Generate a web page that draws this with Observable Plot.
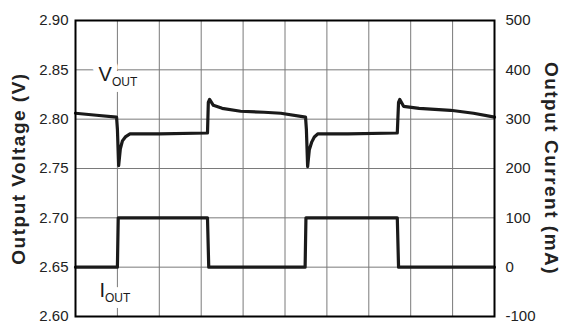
<!DOCTYPE html>
<html>
<head>
<meta charset="utf-8">
<script src="https://cdn.jsdelivr.net/npm/d3@7"></script>
<script src="https://cdn.jsdelivr.net/npm/@observablehq/plot@0.6"></script>
<style>
  html, body { margin: 0; padding: 0; background: white; }
  #chart { width: 562px; height: 325px; }
  .axis-title text { letter-spacing: 1.5px; }
</style>
</head>
<body>
<div id="chart"></div>
<script>
// Time axis in grid divisions (0..10)
const voltTime = [0, 0.5, 0.98, 1.0, 1.03, 1.07, 1.12, 1.19, 1.3, 2.0, 3.15, 3.17, 3.2, 3.29, 3.5, 3.94, 4.5, 4.9, 5.49, 5.51, 5.54, 5.58, 5.64, 5.7, 5.78, 6.5, 7.68, 7.71, 7.74, 7.83, 8.2, 8.95, 9.5, 10.0];
const voltValues = [2.806, 2.804, 2.802, 2.790, 2.753, 2.770, 2.778, 2.782, 2.785, 2.785, 2.786, 2.817, 2.820, 2.814, 2.811, 2.808, 2.807, 2.806, 2.802, 2.790, 2.752, 2.769, 2.777, 2.782, 2.785, 2.785, 2.786, 2.817, 2.820, 2.813, 2.811, 2.809, 2.806, 2.802];

const currTime = [0, 1.0, 1.02, 3.15, 3.18, 5.48, 5.5, 7.68, 7.71, 10.0];
const currValues = [0, 0, 100, 100, 0, 0, 100, 100, 0, 0]; // mA

const voltTicks = [2.60, 2.65, 2.70, 2.75, 2.80, 2.85, 2.90];
const currentTicks = [-100, 0, 100, 200, 300, 400, 500];
const gridXTicks = [0, 1, 2, 3, 4, 5, 6, 7, 8, 9, 10];

const leftTitle = "Output Voltage (V)";
const rightTitle = "Output Current (mA)";
const traceLabels = [
  {x: 0.55, y: 2.845, main: "V", sub: "OUT"},
  {x: 0.57, y: 2.626, main: "I", sub: "OUT"}
];

// Current axis maps onto voltage axis: 0 mA -> 2.65 V, 100 mA -> 2.70 V
const mAtoV = mA => 2.65 + mA * 0.0005;
const vToMA = v => String(Math.round((v - 2.65) / 0.0005));

const voltData = voltTime.map((t, i) => ({t, v: voltValues[i]}));
const currData = currTime.map((t, i) => ({t, i: currValues[i]}));

const ink = "#1a1a1a";
const gridColor = "#7a7a7a";

const labelText = d => d.main + "|" + d.sub;

const plot = Plot.plot({
  width: 562,
  height: 325,
  marginLeft: 75,
  marginRight: 68,
  marginTop: 20,
  marginBottom: 9,
  style: {fontFamily: "'Liberation Sans', Arial, sans-serif", fontSize: "15px", background: "white", color: "#222"},
  x: {domain: [0, 10], axis: null},
  y: {domain: [2.60, 2.90]},
  marks: [
    Plot.gridX(gridXTicks, {stroke: gridColor, strokeOpacity: 1, strokeWidth: 1}),
    Plot.gridY(voltTicks, {stroke: gridColor, strokeOpacity: 1, strokeWidth: 1}),
    Plot.axisY(voltTicks, {anchor: "left", tickSize: 0, tickPadding: 7, tickFormat: d3.format(".2f"), label: null, fontSize: 15}),
    Plot.axisY(currentTicks.map(mAtoV), {anchor: "right", tickSize: 0, tickPadding: 11, tickFormat: vToMA, label: null, fontSize: 15}),
    // halo behind trace labels (hides grid lines)
    Plot.text(traceLabels, {x: "x", y: "y", text: labelText, textAnchor: "start", fontSize: 20, fill: "white", stroke: "white", strokeWidth: 12, className: "trace-label"}),
    Plot.text(traceLabels, {x: "x", y: "y", text: labelText, textAnchor: "start", fontSize: 20, fill: ink, className: "trace-label"}),
    Plot.line(currData, {x: "t", y: d => mAtoV(d.i), stroke: ink, strokeWidth: 3.2, strokeLinejoin: "round"}),
    Plot.line(voltData, {x: "t", y: "v", stroke: ink, strokeWidth: 3.2, strokeLinejoin: "round"}),
    Plot.frame({stroke: "black", strokeWidth: 2}),
    Plot.text([leftTitle], {frameAnchor: "left", dx: -57, rotate: -90, textAnchor: "middle", text: d => d, fontSize: 19, fontWeight: "bold", fill: "#222", className: "axis-title"}),
    Plot.text([rightTitle], {frameAnchor: "right", dx: 57, rotate: 90, textAnchor: "middle", text: d => d, fontSize: 19, fontWeight: "bold", fill: "#222", className: "axis-title"})
  ]
});

// Render subscripts for trace labels
const ns = "http://www.w3.org/2000/svg";
plot.querySelectorAll("g.trace-label text").forEach(t => {
  const [main, sub] = t.textContent.split("|");
  t.textContent = "";
  t.appendChild(document.createTextNode(main));
  const ts = document.createElementNS(ns, "tspan");
  ts.setAttribute("font-size", "12");
  ts.setAttribute("dy", "5");
  ts.textContent = sub;
  t.appendChild(ts);
});

document.getElementById("chart").appendChild(plot);
</script>
</body>
</html>
